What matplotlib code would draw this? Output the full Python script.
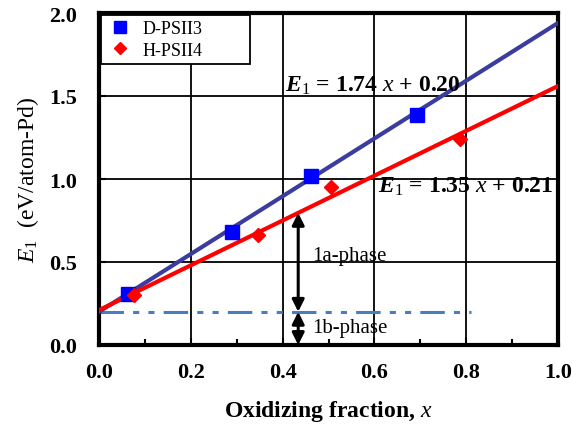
import numpy as np
import matplotlib.pyplot as plt

plt.rcParams['font.family'] = ['Liberation Serif', 'DejaVu Serif']
plt.rcParams['mathtext.fontset'] = 'custom'
plt.rcParams['mathtext.it'] = 'Liberation Serif:italic'
plt.rcParams['mathtext.rm'] = 'Liberation Serif'
plt.rcParams['mathtext.bf'] = 'Liberation Serif:bold'
plt.rcParams['mathtext.bfit'] = 'Liberation Serif:italic:bold'

# data
d_x = [0.063, 0.29, 0.462, 0.693]
d_y = [0.307, 0.68, 1.02, 1.386]
h_x = [0.076, 0.346, 0.505, 0.786]
h_y = [0.30, 0.66, 0.95, 1.24]

# fits
d_slope, d_icpt = 1.74, 0.20
h_slope, h_icpt = 1.35, 0.21
x_fit = np.array([0.0, 1.0])

fig = plt.figure(figsize=(5.72, 4.31), dpi=100)
ax = fig.add_axes([99/572, 1-346/431, 459/572, 332/431])

ax.plot(x_fit, d_slope*x_fit + d_icpt, color='#3b3d9e', lw=3, zorder=3)
ax.plot(x_fit, h_slope*x_fit + h_icpt, color='red', lw=3, zorder=3)
ax.plot(d_x, d_y, 's', color='blue', ms=10, zorder=4, label='D-PSII3')
ax.plot(h_x, h_y, 'D', color='red', ms=7, zorder=4, label='H-PSII4')

ax.plot([0, 0.81], [0.2, 0.2], color='#4a7cc4', lw=2.2, dashes=[8, 3, 2, 3, 2, 3], zorder=2)

xa = 0.434
ax.annotate('', xy=(xa, 0.2), xytext=(xa, h_slope*xa + h_icpt),
            arrowprops=dict(arrowstyle='<|-|>', color='black', lw=2.2, mutation_scale=18,
                            shrinkA=0, shrinkB=0))
ax.annotate('', xy=(xa, 0.0), xytext=(xa, 0.2),
            arrowprops=dict(arrowstyle='<|-|>', color='black', lw=2.2, mutation_scale=18,
                            shrinkA=0, shrinkB=0))
ax.text(xa + 0.03, 0.54, '1a-phase', fontsize=15, va='center', ha='left')
ax.text(xa + 0.03, 0.105, '1b-phase', fontsize=15, va='center', ha='left')

ax.text(0.405, 1.57, r'$\mathbfit{E}_\mathrm{1}$ = 1.74 $\mathit{x}$ + 0.20', fontsize=17,
        fontweight='bold', va='center', ha='left')
ax.text(0.608, 0.96, r'$\mathbfit{E}_\mathrm{1}$ = 1.35 $\mathit{x}$ + 0.21', fontsize=17,
        fontweight='bold', va='center', ha='left')

ax.set_xlim(0, 1)
ax.set_ylim(0, 2)
ax.set_xticks(np.arange(0, 1.01, 0.2))
ax.set_yticks(np.arange(0, 2.01, 0.5))
ax.set_xticks(np.arange(0.1, 1.0, 0.2), minor=True)
ax.xaxis.set_major_formatter(plt.FormatStrFormatter('%.1f'))
ax.yaxis.set_major_formatter(plt.FormatStrFormatter('%.1f'))
ax.grid(True, which='major', color='black', lw=1.3)
ax.tick_params(which='both', direction='in', length=5, width=1.5, labelsize=16)
ax.tick_params(axis='x', pad=12)
ax.tick_params(axis='y', pad=16)
ax.tick_params(which='minor', length=4)
for lab in ax.get_xticklabels() + ax.get_yticklabels():
    lab.set_fontweight('bold')
for s in ax.spines.values():
    s.set_linewidth(3)

ax.set_xlabel(r'Oxidizing fraction, $\mathit{x}$', fontsize=17, fontweight='bold', labelpad=12)
ax.set_ylabel(r'$\mathit{E}_\mathrm{1}$  (eV/atom-Pd)', fontsize=17, labelpad=6)

leg = ax.legend(loc='upper left', bbox_to_anchor=(0.005, 0.995, 0.325, 0), mode='expand',
                fontsize=13, frameon=True, fancybox=False, markerscale=0.85,
                edgecolor='black', borderaxespad=0, handletextpad=0.5, borderpad=0.3,
                labelspacing=0.25, handlelength=1.5)
leg.get_frame().set_linewidth(1.3)
leg.get_frame().set_alpha(1)

fig.savefig('out.png', dpi=100)
